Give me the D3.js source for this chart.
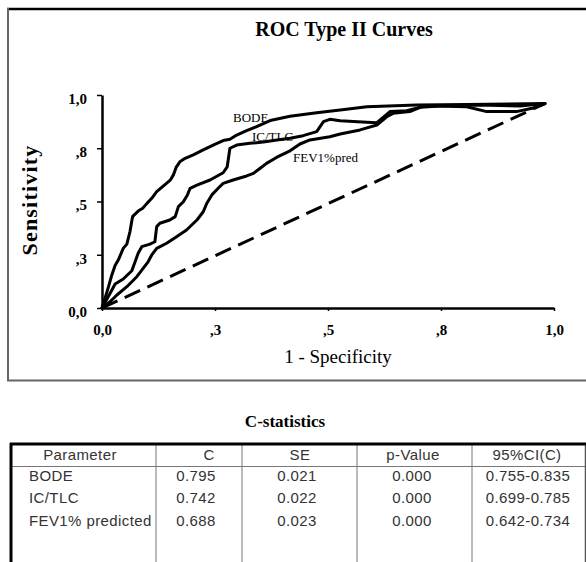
<!DOCTYPE html>
<html>
<head>
<meta charset="utf-8">
<script src="https://cdn.jsdelivr.net/npm/d3@7"></script>
<style>
  html, body { margin: 0; padding: 0; background: #fff; }
  svg { display: block; }
</style>
</head>
<body>
<svg id="chart" width="586" height="562"></svg>
<script>
// ROC curves: [1 - specificity, sensitivity]
const bodeCurve = [
  [0, 0], [0.013, 0.09], [0.021, 0.15], [0.029, 0.20], [0.036, 0.225], [0.047, 0.28],
  [0.055, 0.30], [0.062, 0.36], [0.066, 0.41], [0.068, 0.43], [0.080, 0.455],
  [0.090, 0.468], [0.099, 0.49], [0.110, 0.515], [0.121, 0.546], [0.136, 0.573],
  [0.151, 0.60], [0.158, 0.625], [0.164, 0.66], [0.173, 0.688], [0.184, 0.703],
  [0.202, 0.719], [0.224, 0.742], [0.246, 0.765], [0.268, 0.786], [0.283, 0.792],
  [0.298, 0.812], [0.320, 0.833], [0.342, 0.852], [0.372, 0.880], [0.416, 0.900],
  [0.475, 0.917], [0.527, 0.930], [0.586, 0.945], [0.696, 0.953], [0.807, 0.955],
  [0.98, 0.96]
];
const icTlcCurve = [
  [0, 0], [0.018, 0.069], [0.029, 0.113], [0.047, 0.136], [0.066, 0.175],
  [0.080, 0.257], [0.088, 0.288], [0.106, 0.300], [0.117, 0.311], [0.121, 0.382],
  [0.128, 0.398], [0.150, 0.413], [0.162, 0.429], [0.169, 0.476], [0.180, 0.499],
  [0.189, 0.531], [0.195, 0.562], [0.210, 0.577], [0.239, 0.601], [0.268, 0.635],
  [0.277, 0.663], [0.283, 0.750], [0.298, 0.765], [0.327, 0.773], [0.357, 0.779],
  [0.387, 0.789], [0.416, 0.797], [0.445, 0.809], [0.475, 0.828], [0.490, 0.875],
  [0.504, 0.886], [0.527, 0.879], [0.586, 0.872], [0.608, 0.870], [0.622, 0.895],
  [0.637, 0.922], [0.674, 0.926], [0.718, 0.950], [0.807, 0.945], [0.851, 0.922],
  [0.917, 0.922], [0.954, 0.939], [0.98, 0.96]
];
const fev1Curve = [
  [0, 0], [0.018, 0.030], [0.033, 0.061], [0.055, 0.100], [0.077, 0.147],
  [0.091, 0.186], [0.102, 0.217], [0.110, 0.249], [0.121, 0.280], [0.143, 0.304],
  [0.165, 0.335], [0.187, 0.366], [0.210, 0.413], [0.224, 0.452], [0.232, 0.492],
  [0.243, 0.531], [0.257, 0.562], [0.268, 0.585], [0.290, 0.601], [0.320, 0.620],
  [0.335, 0.632], [0.350, 0.656], [0.364, 0.679], [0.387, 0.708], [0.416, 0.738],
  [0.438, 0.770], [0.460, 0.789], [0.504, 0.804], [0.527, 0.817], [0.571, 0.836],
  [0.608, 0.859], [0.630, 0.898], [0.644, 0.914], [0.681, 0.922], [0.704, 0.942],
  [0.748, 0.948], [0.836, 0.953], [0.925, 0.948], [0.98, 0.96]
];
const referenceLine = [[0, 0], [0.98, 0.96]];

const curveNames = ["BODE", "IC/TLC", "FEV1%pred"];

// axis ticks and their printed labels
const tickValues = [0, 0.25, 0.5, 0.75, 1];
const tickLabels = ["0,0", ",3", ",5", ",8", "1,0"];

// C-statistics table
const tableHeaders = ["Parameter", "C", "SE", "p-Value", "95%CI(C)"];
const parameters = ["BODE", "IC/TLC", "FEV1% predicted"];
const cValues = ["0.795", "0.742", "0.688"];
const seValues = ["0.021", "0.022", "0.023"];
const pValues = ["0.000", "0.000", "0.000"];
const ciValues = ["0.755-0.835", "0.699-0.785", "0.642-0.734"];

const svg = d3.select("#chart");
const serif = "'Liberation Serif', 'Times New Roman', serif";

// chart frame
svg.append("line").attr("x1", 7).attr("x2", 586).attr("y1", 9).attr("y2", 9)
  .attr("stroke", "#000").attr("stroke-width", 2.5);
svg.append("line").attr("x1", 8).attr("x2", 8).attr("y1", 8).attr("y2", 381)
  .attr("stroke", "#666").attr("stroke-width", 2);
svg.append("line").attr("x1", 7).attr("x2", 586).attr("y1", 380.5).attr("y2", 380.5)
  .attr("stroke", "#666").attr("stroke-width", 2);

svg.append("text").attr("x", 344).attr("y", 36).attr("text-anchor", "middle")
  .attr("font-family", serif).attr("font-weight", "bold").attr("font-size", 20)
  .text("ROC Type II Curves");

const x = d3.scaleLinear().domain([0, 1]).range([102, 554]);
const y = d3.scaleLinear().domain([0, 1]).range([308, 95]);

const xAxis = svg.append("g").attr("transform", `translate(0,${y(0)})`)
  .call(d3.axisBottom(x).tickValues(tickValues)
    .tickFormat((d, i) => tickLabels[i]).tickSize(3).tickSizeOuter(0).tickPadding(13));
const yAxis = svg.append("g").attr("transform", `translate(${x(0)},0)`)
  .call(d3.axisLeft(y).tickValues(tickValues)
    .tickFormat((d, i) => tickLabels[i]).tickSize(5).tickSizeOuter(0).tickPadding(10));

[xAxis, yAxis].forEach(g => {
  g.select(".domain").attr("stroke", "#000").attr("stroke-width", 2.5);
  g.selectAll(".tick line").attr("stroke", "#000").attr("stroke-width", 1.5);
  g.selectAll(".tick text").attr("font-family", serif).attr("font-weight", "bold")
    .attr("font-size", 15).attr("fill", "#000");
});
yAxis.selectAll(".tick text").attr("dy", "0.55em");

svg.append("text").attr("x", 338).attr("y", 363).attr("text-anchor", "middle")
  .attr("font-family", serif).attr("font-size", 19).text("1 - Specificity");

svg.append("text").attr("transform", "translate(37,200) rotate(-90)")
  .attr("text-anchor", "middle").attr("font-family", serif).attr("font-weight", "bold")
  .attr("font-size", 22).attr("letter-spacing", 1.2).text("Sensitivity");

const line = d3.line().x(d => x(d[0])).y(d => y(d[1]));

svg.append("path").datum(referenceLine).attr("d", line)
  .attr("fill", "none").attr("stroke", "#000").attr("stroke-width", 3)
  .attr("stroke-dasharray", "17,8");

[bodeCurve, icTlcCurve, fev1Curve].forEach(c => {
  svg.append("path").datum(c).attr("d", line)
    .attr("fill", "none").attr("stroke", "#000").attr("stroke-width", 3)
    .attr("stroke-linejoin", "round").attr("stroke-linecap", "round");
});

// curve labels
const labelPos = [[233, 122], [252, 141], [293, 162]];
curveNames.forEach((n, i) => {
  svg.append("text").attr("x", labelPos[i][0]).attr("y", labelPos[i][1])
    .attr("font-family", serif).attr("font-size", 13).text(n);
});

// table
svg.append("text").attr("x", 285).attr("y", 427).attr("text-anchor", "middle")
  .attr("font-family", serif).attr("font-weight", "bold").attr("font-size", 17)
  .text("C-statistics");

const colEdges = [156, 242, 357, 472];
colEdges.forEach(cx => {
  svg.append("line").attr("x1", cx).attr("x2", cx).attr("y1", 444).attr("y2", 562)
    .attr("stroke", "#777").attr("stroke-width", 1);
});
svg.append("line").attr("x1", 11).attr("x2", 586).attr("y1", 466.5).attr("y2", 466.5)
  .attr("stroke", "#777").attr("stroke-width", 1);
svg.append("line").attr("x1", 585.5).attr("x2", 585.5).attr("y1", 443).attr("y2", 562)
  .attr("stroke", "#555").attr("stroke-width", 1.5);
svg.append("line").attr("x1", 10).attr("x2", 586).attr("y1", 444).attr("y2", 444)
  .attr("stroke", "#000").attr("stroke-width", 3);
svg.append("line").attr("x1", 11).attr("x2", 11).attr("y1", 443).attr("y2", 562)
  .attr("stroke", "#000").attr("stroke-width", 3);

const sans = "'Liberation Sans', Arial, sans-serif";
const headerX = [80, 209, 300, 413, 527];
tableHeaders.forEach((h, i) => {
  svg.append("text").attr("x", headerX[i]).attr("y", 460).attr("text-anchor", "middle")
    .attr("font-family", sans).attr("font-size", 15).attr("letter-spacing", 0.4)
    .attr("fill", "#333").text(h);
});
const rowY = [481, 503, 526];
const valueX = [196, 297, 412, 528];
parameters.forEach((p, r) => {
  svg.append("text").attr("x", 29).attr("y", rowY[r])
    .attr("font-family", sans).attr("font-size", 15).attr("letter-spacing", 0.4)
    .attr("fill", "#333").text(p);
  [cValues, seValues, pValues, ciValues].forEach((col, c) => {
    svg.append("text").attr("x", valueX[c]).attr("y", rowY[r]).attr("text-anchor", "middle")
      .attr("font-family", sans).attr("font-size", 15).attr("letter-spacing", 0.4)
      .attr("fill", "#333").text(col[r]);
  });
});
</script>
</body>
</html>
